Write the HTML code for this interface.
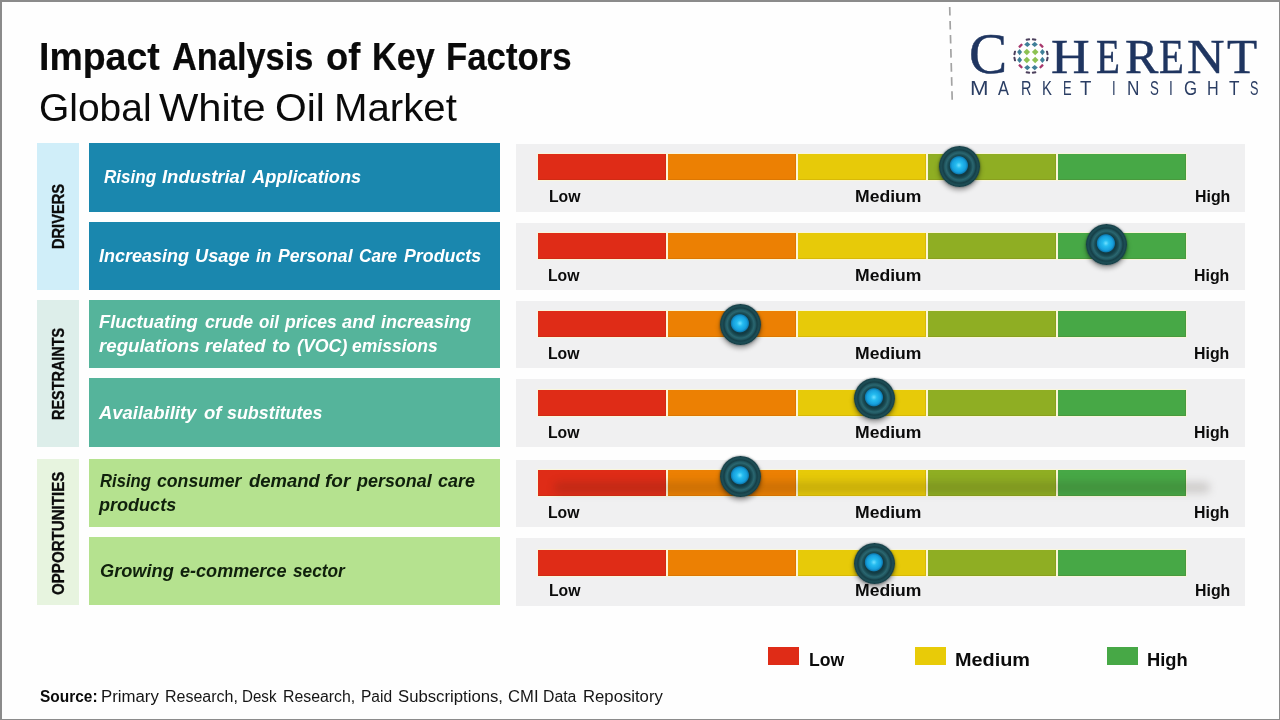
<!DOCTYPE html>
<html lang="en"><head><meta charset="utf-8"><title>Impact Analysis of Key Factors - Global White Oil Market</title>
<style>
html,body{margin:0;padding:0;background:#fff;}
body{width:1280px;height:720px;overflow:hidden;font-family:"Liberation Sans",sans-serif;}
#slide{position:relative;width:1280px;height:720px;background:#fefefe;overflow:hidden;}
#frame{position:absolute;left:0;top:0;width:1277px;height:717px;border-style:solid;border-color:#8b8b8b;border-width:2px 1px 1px 2px;z-index:50;pointer-events:none;}
.t{position:absolute;white-space:nowrap;line-height:1;transform-origin:0 0;font-family:"Liberation Sans",sans-serif;}
.box{position:absolute;}
.cat-box{left:37px;width:42px;}
.row-box{left:89px;width:411px;}
.panel{position:absolute;left:516px;width:729px;background:#f0f0f1;}
.bar{position:absolute;left:22px;width:648px;height:26px;display:flex;gap:1.5px;background:#fcf6d8;box-shadow:0 0 0 .8px rgba(255,250,205,.75);}
.seg{height:100%;width:128.4px;flex:none;box-shadow:inset -1px -1px 0 rgba(90,40,0,.10);}
.s1{background:#df2c17;}
.s2{background:#ec8003;}
.s3{background:#e7ca09;}
.s4{background:#8fae23;}
.s5{background:#47a846;}
.knob{position:absolute;width:41px;height:41px;border-radius:50%;
 background:
  radial-gradient(circle at 48.5% 47%, #6fe0ff 0, #25bcf0 3px, #169fdc 7px, #0e7db3 8.6px, rgba(14,125,179,0) 9.5px),
  radial-gradient(circle at 50% 50%, #133c44 0, #133c44 9.5px, #1a4c54 11.5px, #2a6670 13.5px, #225861 15px, #163f47 16.5px, #1d4e56 18.5px, #143a42 20.5px);
 box-shadow:0 3px 5px rgba(0,0,0,.38), 0 0 2px rgba(10,40,50,.6);}
.smear{position:absolute;left:38px;top:22px;width:656px;height:11px;border-radius:6px;background:rgba(40,30,20,.17);filter:blur(4.5px);}
.sw{position:absolute;top:647px;width:31px;height:18px;}
#texts{position:absolute;left:0;top:0;width:1280px;height:720px;will-change:transform;}
.logo{-webkit-text-stroke:.45px #1f3560;}
.cat{-webkit-text-stroke:.35px #0b0b0b;}
.title{-webkit-text-stroke:.2px #0a0a0a;}

</style></head>
<body>
<div id="slide">
<div id="frame"></div>
<svg id="dash" style="position:absolute;left:940px;top:0" width="24" height="110" viewBox="0 0 24 110"><line x1="9.7" y1="6.9" x2="12.2" y2="100" stroke="#a3a3a3" stroke-width="1.7" stroke-dasharray="8.6 5.45"/></svg>
<svg id="globe" style="position:absolute;left:1009.5px;top:35.1px" width="42" height="42" viewBox="-21 -21 42 42">
<polygon points="-7.50,-4.05 -4.20,-7.35 -0.90,-4.05 -4.20,-0.75" fill="#8cc152"/>
<polygon points="-7.50,4.05 -4.20,0.75 -0.90,4.05 -4.20,7.35" fill="#8cc152"/>
<polygon points="0.90,-4.05 4.20,-7.35 7.50,-4.05 4.20,-0.75" fill="#8cc152"/>
<polygon points="0.90,4.05 4.20,0.75 7.50,4.05 4.20,7.35" fill="#8cc152"/>
<polygon points="-6.80,-11.60 -3.70,-14.30 -0.60,-11.60 -3.70,-8.90" fill="#3f7f98"/>
<polygon points="-6.80,11.60 -3.70,8.90 -0.60,11.60 -3.70,14.30" fill="#3f7f98"/>
<polygon points="-13.90,-3.90 -11.40,-7.00 -8.90,-3.90 -11.40,-0.80" fill="#3f7f98"/>
<polygon points="8.90,-3.90 11.40,-7.00 13.90,-3.90 11.40,-0.80" fill="#3f7f98"/>
<polygon points="0.60,-11.60 3.70,-14.30 6.80,-11.60 3.70,-8.90" fill="#3f7f98"/>
<polygon points="0.60,11.60 3.70,8.90 6.80,11.60 3.70,14.30" fill="#3f7f98"/>
<polygon points="-13.90,3.90 -11.40,0.80 -8.90,3.90 -11.40,7.00" fill="#3f7f98"/>
<polygon points="8.90,3.90 11.40,0.80 13.90,3.90 11.40,7.00" fill="#3f7f98"/>
<rect x="-2.30" y="-1.20" width="4.6" height="2.4" rx="0.6" transform="translate(-10.40,-10.30) rotate(-45)" fill="#a8386c"/>
<rect x="-2.30" y="-1.20" width="4.6" height="2.4" rx="0.6" transform="translate(-10.40,10.30) rotate(45)" fill="#a8386c"/>
<rect x="-2.30" y="-1.20" width="4.6" height="2.4" rx="0.6" transform="translate(10.40,-10.30) rotate(45)" fill="#a8386c"/>
<rect x="-2.30" y="-1.20" width="4.6" height="2.4" rx="0.6" transform="translate(10.40,10.30) rotate(-45)" fill="#a8386c"/>
<rect x="-2.20" y="-1.00" width="4.4" height="2.0" rx="0.6" transform="translate(-3.10,-16.50) rotate(-12)" fill="#4b3f5c"/>
<rect x="-2.20" y="-1.00" width="4.4" height="2.0" rx="0.6" transform="translate(-3.10,16.50) rotate(12)" fill="#4b3f5c"/>
<rect x="-1.00" y="-2.20" width="2.0" height="4.4" rx="0.6" transform="translate(-16.30,-3.10) rotate(12)" fill="#4b3f5c"/>
<rect x="-1.00" y="-2.20" width="2.0" height="4.4" rx="0.6" transform="translate(16.30,-3.10) rotate(-12)" fill="#4b3f5c"/>
<rect x="-2.20" y="-1.00" width="4.4" height="2.0" rx="0.6" transform="translate(3.10,-16.50) rotate(12)" fill="#4b3f5c"/>
<rect x="-2.20" y="-1.00" width="4.4" height="2.0" rx="0.6" transform="translate(3.10,16.50) rotate(-12)" fill="#4b3f5c"/>
<rect x="-1.00" y="-2.20" width="2.0" height="4.4" rx="0.6" transform="translate(-16.30,3.10) rotate(-12)" fill="#4b3f5c"/>
<rect x="-1.00" y="-2.20" width="2.0" height="4.4" rx="0.6" transform="translate(16.30,3.10) rotate(12)" fill="#4b3f5c"/>
</svg>
<div class="box cat-box" style="top:143px;height:147px;background:#d0eef9"></div>
<div class="box cat-box" style="top:300px;height:147px;background:#ddeeea"></div>
<div class="box cat-box" style="top:459px;height:146px;background:#e7f4df"></div>

<div class="box row-box" style="top:143px;height:69px;background:#1a87ae"></div>
<div class="box row-box" style="top:222px;height:68px;background:#1a87ae"></div>
<div class="box row-box" style="top:300px;height:68px;background:#55b49b"></div>
<div class="box row-box" style="top:378px;height:69px;background:#55b49b"></div>
<div class="box row-box" style="top:459px;height:68px;background:#b5e28f"></div>
<div class="box row-box" style="top:537px;height:68px;background:#b5e28f"></div>

<div class="panel" style="top:144px;height:68px"><div class="bar" style="top:10.1px"><div class="seg s1"></div><div class="seg s2"></div><div class="seg s3"></div><div class="seg s4"></div><div class="seg s5"></div></div><div class="knob" style="left:422.5px;top:2.4px"></div></div>
<div class="panel" style="top:223px;height:67px"><div class="bar" style="top:10.0px"><div class="seg s1"></div><div class="seg s2"></div><div class="seg s3"></div><div class="seg s4"></div><div class="seg s5"></div></div><div class="knob" style="left:570.1px;top:1.2px"></div></div>
<div class="panel" style="top:301px;height:67px"><div class="bar" style="top:10.1px"><div class="seg s1"></div><div class="seg s2"></div><div class="seg s3"></div><div class="seg s4"></div><div class="seg s5"></div></div><div class="knob" style="left:204.1px;top:2.5px"></div></div>
<div class="panel" style="top:379px;height:68px"><div class="bar" style="top:11.0px"><div class="seg s1"></div><div class="seg s2"></div><div class="seg s3"></div><div class="seg s4"></div><div class="seg s5"></div></div><div class="knob" style="left:337.9px;top:-0.6px"></div></div>
<div class="panel" style="top:460px;height:67px"><div class="bar" style="top:10.0px"><div class="seg s1"></div><div class="seg s2"></div><div class="seg s3"></div><div class="seg s4"></div><div class="seg s5"></div></div><div class="smear"></div><div class="knob" style="left:204.1px;top:-4.4px"></div></div>
<div class="panel" style="top:538px;height:68px"><div class="bar" style="top:12.3px"><div class="seg s1"></div><div class="seg s2"></div><div class="seg s3"></div><div class="seg s4"></div><div class="seg s5"></div></div><div class="knob" style="left:337.9px;top:4.5px"></div></div>

<div class="sw" style="left:768px;background:#df2c17"></div>
<div class="sw" style="left:915px;background:#e8cb08"></div>
<div class="sw" style="left:1107px;background:#47a846"></div>

<div id="texts">
<span class="t title" style="left:39.35px;top:37px;font-size:39.4px;color:#0a0a0a;transform:scaleX(0.9512);font-weight:bold;">Impact</span>
<span class="t title" style="left:172.00px;top:37px;font-size:39.4px;color:#0a0a0a;transform:scaleX(0.8720);font-weight:bold;">Analysis</span>
<span class="t title" style="left:326.08px;top:37px;font-size:39.4px;color:#0a0a0a;transform:scaleX(0.9241);font-weight:bold;">of</span>
<span class="t title" style="left:372.01px;top:37px;font-size:39.4px;color:#0a0a0a;transform:scaleX(0.8706);font-weight:bold;">Key</span>
<span class="t title" style="left:445.74px;top:37px;font-size:39.4px;color:#0a0a0a;transform:scaleX(0.8825);font-weight:bold;">Factors</span>
<span class="t subtitle" style="left:39.49px;top:89px;font-size:38.6px;color:#0a0a0a;transform:scaleX(1.0098);">Global</span>
<span class="t subtitle" style="left:158.75px;top:89px;font-size:38.6px;color:#0a0a0a;transform:scaleX(1.0807);">White</span>
<span class="t subtitle" style="left:275.19px;top:89px;font-size:38.6px;color:#0a0a0a;transform:scaleX(1.0567);">Oil</span>
<span class="t subtitle" style="left:334.37px;top:89px;font-size:38.6px;color:#0a0a0a;transform:scaleX(1.0418);">Market</span>
<span class="t rowlabel" style="left:103.90px;top:167px;font-size:19.0px;color:#ffffff;transform:scaleX(0.8982);font-weight:bold;font-style:italic;">Rising</span>
<span class="t rowlabel" style="left:162.20px;top:167px;font-size:19.0px;color:#ffffff;transform:scaleX(0.9707);font-weight:bold;font-style:italic;">Industrial</span>
<span class="t rowlabel" style="left:251.76px;top:167px;font-size:19.0px;color:#ffffff;transform:scaleX(0.9577);font-weight:bold;font-style:italic;">Applications</span>
<span class="t rowlabel" style="left:99.00px;top:246px;font-size:19.0px;color:#ffffff;transform:scaleX(0.9462);font-weight:bold;font-style:italic;">Increasing</span>
<span class="t rowlabel" style="left:194.84px;top:246px;font-size:19.0px;color:#ffffff;transform:scaleX(0.9600);font-weight:bold;font-style:italic;">Usage</span>
<span class="t rowlabel" style="left:255.70px;top:246px;font-size:19.0px;color:#ffffff;transform:scaleX(0.9092);font-weight:bold;font-style:italic;">in</span>
<span class="t rowlabel" style="left:277.80px;top:246px;font-size:19.0px;color:#ffffff;transform:scaleX(0.9286);font-weight:bold;font-style:italic;">Personal</span>
<span class="t rowlabel" style="left:358.75px;top:246px;font-size:19.0px;color:#ffffff;transform:scaleX(0.9032);font-weight:bold;font-style:italic;">Care</span>
<span class="t rowlabel" style="left:403.90px;top:246px;font-size:19.0px;color:#ffffff;transform:scaleX(0.9367);font-weight:bold;font-style:italic;">Products</span>
<span class="t rowlabel" style="left:99.00px;top:312px;font-size:19.0px;color:#ffffff;transform:scaleX(0.9633);font-weight:bold;font-style:italic;">Fluctuating</span>
<span class="t rowlabel" style="left:204.50px;top:312px;font-size:19.0px;color:#ffffff;transform:scaleX(0.9315);font-weight:bold;font-style:italic;">crude</span>
<span class="t rowlabel" style="left:258.70px;top:312px;font-size:19.0px;color:#ffffff;transform:scaleX(0.8958);font-weight:bold;font-style:italic;">oil</span>
<span class="t rowlabel" style="left:284.92px;top:312px;font-size:19.0px;color:#ffffff;transform:scaleX(0.9236);font-weight:bold;font-style:italic;">prices</span>
<span class="t rowlabel" style="left:341.80px;top:312px;font-size:19.0px;color:#ffffff;transform:scaleX(0.9657);font-weight:bold;font-style:italic;">and</span>
<span class="t rowlabel" style="left:380.50px;top:312px;font-size:19.0px;color:#ffffff;transform:scaleX(0.9462);font-weight:bold;font-style:italic;">increasing</span>
<span class="t rowlabel" style="left:99.00px;top:336px;font-size:19.0px;color:#ffffff;transform:scaleX(0.9820);font-weight:bold;font-style:italic;">regulations</span>
<span class="t rowlabel" style="left:204.50px;top:336px;font-size:19.0px;color:#ffffff;transform:scaleX(0.9697);font-weight:bold;font-style:italic;">related</span>
<span class="t rowlabel" style="left:272.20px;top:336px;font-size:19.0px;color:#ffffff;transform:scaleX(1.0100);font-weight:bold;font-style:italic;">to</span>
<span class="t rowlabel" style="left:296.50px;top:336px;font-size:19.0px;color:#ffffff;transform:scaleX(0.9346);font-weight:bold;font-style:italic;">(VOC)</span>
<span class="t rowlabel" style="left:352.20px;top:336px;font-size:19.0px;color:#ffffff;transform:scaleX(0.9214);font-weight:bold;font-style:italic;">emissions</span>
<span class="t rowlabel" style="left:99.27px;top:403px;font-size:19.0px;color:#ffffff;transform:scaleX(0.9703);font-weight:bold;font-style:italic;">Availability</span>
<span class="t rowlabel" style="left:203.70px;top:403px;font-size:19.0px;color:#ffffff;transform:scaleX(0.9742);font-weight:bold;font-style:italic;">of</span>
<span class="t rowlabel" style="left:227.10px;top:403px;font-size:19.0px;color:#ffffff;transform:scaleX(0.9407);font-weight:bold;font-style:italic;">substitutes</span>
<span class="t rowlabel" style="left:99.50px;top:471px;font-size:19.0px;color:#10200c;transform:scaleX(0.8759);font-weight:bold;font-style:italic;">Rising</span>
<span class="t rowlabel" style="left:156.80px;top:471px;font-size:19.0px;color:#10200c;transform:scaleX(0.9295);font-weight:bold;font-style:italic;">consumer</span>
<span class="t rowlabel" style="left:248.80px;top:471px;font-size:19.0px;color:#10200c;transform:scaleX(0.9735);font-weight:bold;font-style:italic;">demand</span>
<span class="t rowlabel" style="left:324.50px;top:471px;font-size:19.0px;color:#10200c;transform:scaleX(0.9988);font-weight:bold;font-style:italic;">for</span>
<span class="t rowlabel" style="left:356.64px;top:471px;font-size:19.0px;color:#10200c;transform:scaleX(0.9430);font-weight:bold;font-style:italic;">personal</span>
<span class="t rowlabel" style="left:438.10px;top:471px;font-size:19.0px;color:#10200c;transform:scaleX(0.9436);font-weight:bold;font-style:italic;">care</span>
<span class="t rowlabel" style="left:99.25px;top:495px;font-size:19.0px;color:#10200c;transform:scaleX(0.9497);font-weight:bold;font-style:italic;">products</span>
<span class="t rowlabel" style="left:99.50px;top:561px;font-size:19.0px;color:#10200c;transform:scaleX(0.9581);font-weight:bold;font-style:italic;">Growing</span>
<span class="t rowlabel" style="left:180.20px;top:561px;font-size:19.0px;color:#10200c;transform:scaleX(0.9508);font-weight:bold;font-style:italic;">e-commerce</span>
<span class="t rowlabel" style="left:293.20px;top:561px;font-size:19.0px;color:#10200c;transform:scaleX(0.9090);font-weight:bold;font-style:italic;">sector</span>
<span class="t scale" style="left:548.80px;top:189px;font-size:16.6px;color:#0b0b0b;transform:scaleX(0.9482);font-weight:bold;">Low</span>
<span class="t scale" style="left:855.44px;top:189px;font-size:16.6px;color:#0b0b0b;transform:scaleX(1.0585);font-weight:bold;">Medium</span>
<span class="t scale" style="left:1194.64px;top:189px;font-size:16.6px;color:#0b0b0b;transform:scaleX(0.9572);font-weight:bold;">High</span>
<span class="t scale" style="left:548.05px;top:268px;font-size:16.6px;color:#0b0b0b;transform:scaleX(0.9482);font-weight:bold;">Low</span>
<span class="t scale" style="left:854.54px;top:268px;font-size:16.6px;color:#0b0b0b;transform:scaleX(1.0585);font-weight:bold;">Medium</span>
<span class="t scale" style="left:1193.64px;top:268px;font-size:16.6px;color:#0b0b0b;transform:scaleX(0.9572);font-weight:bold;">High</span>
<span class="t scale" style="left:548.05px;top:346px;font-size:16.6px;color:#0b0b0b;transform:scaleX(0.9482);font-weight:bold;">Low</span>
<span class="t scale" style="left:854.54px;top:346px;font-size:16.6px;color:#0b0b0b;transform:scaleX(1.0585);font-weight:bold;">Medium</span>
<span class="t scale" style="left:1193.64px;top:346px;font-size:16.6px;color:#0b0b0b;transform:scaleX(0.9572);font-weight:bold;">High</span>
<span class="t scale" style="left:548.05px;top:425px;font-size:16.6px;color:#0b0b0b;transform:scaleX(0.9482);font-weight:bold;">Low</span>
<span class="t scale" style="left:854.54px;top:425px;font-size:16.6px;color:#0b0b0b;transform:scaleX(1.0585);font-weight:bold;">Medium</span>
<span class="t scale" style="left:1193.64px;top:425px;font-size:16.6px;color:#0b0b0b;transform:scaleX(0.9572);font-weight:bold;">High</span>
<span class="t scale" style="left:547.80px;top:505px;font-size:16.6px;color:#0b0b0b;transform:scaleX(0.9482);font-weight:bold;">Low</span>
<span class="t scale" style="left:854.54px;top:505px;font-size:16.6px;color:#0b0b0b;transform:scaleX(1.0585);font-weight:bold;">Medium</span>
<span class="t scale" style="left:1193.64px;top:505px;font-size:16.6px;color:#0b0b0b;transform:scaleX(0.9572);font-weight:bold;">High</span>
<span class="t scale" style="left:548.55px;top:583px;font-size:16.6px;color:#0b0b0b;transform:scaleX(0.9482);font-weight:bold;">Low</span>
<span class="t scale" style="left:855.44px;top:583px;font-size:16.6px;color:#0b0b0b;transform:scaleX(1.0585);font-weight:bold;">Medium</span>
<span class="t scale" style="left:1194.64px;top:583px;font-size:16.6px;color:#0b0b0b;transform:scaleX(0.9572);font-weight:bold;">High</span>
<span class="t legend" style="left:809.01px;top:652px;font-size:17.8px;color:#0b0b0b;transform:scaleX(0.9907);font-weight:bold;">Low</span>
<span class="t legend" style="left:955.48px;top:652px;font-size:17.8px;color:#0b0b0b;transform:scaleX(1.1168);font-weight:bold;">Medium</span>
<span class="t legend" style="left:1147.07px;top:652px;font-size:17.8px;color:#0b0b0b;transform:scaleX(1.0307);font-weight:bold;">High</span>
<span class="t source" style="left:40.00px;top:689px;font-size:16px;color:#0b0b0b;transform:scaleX(0.9658);font-weight:bold;">Source:</span>
<span class="t source" style="left:100.95px;top:689px;font-size:16px;color:#151515;transform:scaleX(1.0488);">Primary</span>
<span class="t source" style="left:164.50px;top:689px;font-size:16px;color:#151515;transform:scaleX(1.0003);">Research,</span>
<span class="t source" style="left:242.05px;top:689px;font-size:16px;color:#151515;transform:scaleX(0.9464);">Desk</span>
<span class="t source" style="left:282.76px;top:689px;font-size:16px;color:#151515;transform:scaleX(0.9898);">Research,</span>
<span class="t source" style="left:361.03px;top:689px;font-size:16px;color:#151515;transform:scaleX(0.9710);">Paid</span>
<span class="t source" style="left:397.50px;top:689px;font-size:16px;color:#151515;transform:scaleX(1.0445);">Subscriptions,</span>
<span class="t source" style="left:508.00px;top:689px;font-size:16px;color:#151515;transform:scaleX(1.0401);">CMI</span>
<span class="t source" style="left:542.76px;top:689px;font-size:16px;color:#151515;transform:scaleX(0.9879);">Data</span>
<span class="t source" style="left:582.71px;top:689px;font-size:16px;color:#151515;transform:scaleX(1.0434);">Repository</span>
<span class="t logo" style="left:969.26px;top:26px;font-size:56px;color:#1f3560;transform:scaleX(1.0212);font-family:'Liberation Serif',serif;">C</span>
<span class="t logo" style="left:1050.77px;top:34px;font-size:47.5px;color:#1f3560;transform:scaleX(1.1281);font-family:'Liberation Serif',serif;">H</span>
<span class="t logo" style="left:1095.78px;top:34px;font-size:47.5px;color:#1f3560;transform:scaleX(0.8231);font-family:'Liberation Serif',serif;">E</span>
<span class="t logo" style="left:1124.75px;top:34px;font-size:47.5px;color:#1f3560;transform:scaleX(1.0516);font-family:'Liberation Serif',serif;">R</span>
<span class="t logo" style="left:1159.34px;top:34px;font-size:47.5px;color:#1f3560;transform:scaleX(0.8577);font-family:'Liberation Serif',serif;">E</span>
<span class="t logo" style="left:1186.61px;top:34px;font-size:47.5px;color:#1f3560;transform:scaleX(1.0939);font-family:'Liberation Serif',serif;">N</span>
<span class="t logo" style="left:1227.20px;top:34px;font-size:47.5px;color:#1f3560;transform:scaleX(1.0379);font-family:'Liberation Serif',serif;">T</span>
<span class="t logo2" style="left:970.26px;top:79px;font-size:19.6px;color:#2a3d63;transform:scaleX(1.1357);">M</span>
<span class="t logo2" style="left:998.40px;top:79px;font-size:19.6px;color:#2a3d63;transform:scaleX(0.8357);">A</span>
<span class="t logo2" style="left:1020.86px;top:79px;font-size:19.6px;color:#2a3d63;transform:scaleX(0.7385);">R</span>
<span class="t logo2" style="left:1042.14px;top:79px;font-size:19.6px;color:#2a3d63;transform:scaleX(0.7583);">K</span>
<span class="t logo2" style="left:1062.54px;top:79px;font-size:19.6px;color:#2a3d63;transform:scaleX(0.6583);">E</span>
<span class="t logo2" style="left:1080.40px;top:79px;font-size:19.6px;color:#2a3d63;transform:scaleX(0.9500);">T</span>
<span class="t logo2" style="left:1112.23px;top:79px;font-size:19.6px;color:#2a3d63;transform:scaleX(0.6667);">I</span>
<span class="t logo2" style="left:1126.72px;top:79px;font-size:19.6px;color:#2a3d63;transform:scaleX(0.8750);">N</span>
<span class="t logo2" style="left:1149.80px;top:79px;font-size:19.6px;color:#2a3d63;transform:scaleX(0.6769);">S</span>
<span class="t logo2" style="left:1169.10px;top:79px;font-size:19.6px;color:#2a3d63;transform:scaleX(0.7000);">I</span>
<span class="t logo2" style="left:1184.10px;top:79px;font-size:19.6px;color:#2a3d63;transform:scaleX(0.8571);">G</span>
<span class="t logo2" style="left:1207.38px;top:79px;font-size:19.6px;color:#2a3d63;transform:scaleX(0.8250);">H</span>
<span class="t logo2" style="left:1229.00px;top:79px;font-size:19.6px;color:#2a3d63;transform:scaleX(0.8750);">T</span>
<span class="t logo2" style="left:1249.50px;top:79px;font-size:19.6px;color:#2a3d63;transform:scaleX(0.6462);">S</span>
<span class="t cat" style="left:50.23px;top:249.29px;font-size:16.5px;font-weight:bold;color:#0b0b0b;transform:rotate(-90deg) scaleX(0.8861);">DRIVERS</span>
<span class="t cat" style="left:50.43px;top:419.87px;font-size:16.5px;font-weight:bold;color:#0b0b0b;transform:rotate(-90deg) scaleX(0.8744);">RESTRAINTS</span>
<span class="t cat" style="left:50.43px;top:594.90px;font-size:16.5px;font-weight:bold;color:#0b0b0b;transform:rotate(-90deg) scaleX(0.9150);">OPPORTUNITIES</span>
</div>
</div>
</body></html>
